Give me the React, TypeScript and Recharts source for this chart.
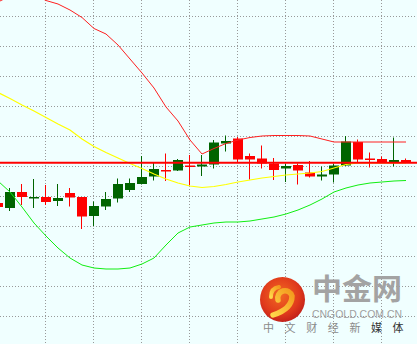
import React from 'react';
import { ComposedChart, Bar, Line, XAxis, YAxis, CartesianGrid, ReferenceLine } from 'recharts';

// ---- data (bar index k, prices in chart units) ----
const barIndex = [-1, 0, 1, 2, 3, 4, 5, 6, 7, 8, 9, 10, 11, 12, 13, 14, 15, 16, 17, 18, 19, 20, 21, 22, 23, 24, 25, 26, 27, 28, 29, 30, 31, 32, 33];
const opens = [141, 136, 152, 146, 147, 143, 151, 147, 128, 137.5, 145.5, 154, 160, 167.5, 174, 173.5, 178.5, 177.5, 179.5, 200.5, 205.5, 188, 185.5, 180.5, 175.5, 179, 171.5, 167.5, 169.5, 178.5, 202, 185.5, 185, 181.5, 184];
const closes = [137, 152, 147, 147, 142, 146, 146.5, 127.5, 138, 145, 160, 161, 167, 175, 173.5, 184, 178, 179.5, 201.5, 203, 184.5, 184.5, 180.5, 174, 178, 173.5, 167.5, 169.5, 178.5, 202.5, 184.5, 185, 181.5, 184, 181.5];
const highs = [144, 156, 160, 165, 159, 160, 156, 147, 142.5, 152, 165.5, 165.5, 188, 181, 190.5, 185, 189, 189, 204, 208.5, 207, 190.5, 198.5, 186, 180.5, 180.5, 183, 177.5, 180.5, 208, 204.5, 191.5, 187.5, 206.5, 185.5];
const lows = [134, 133, 139, 136, 139, 138, 137.5, 115, 118, 134, 141.5, 152, 159.5, 163.5, 163, 173, 158.5, 168, 175.5, 192.5, 182, 164.5, 175.5, 164, 162, 159.5, 166.5, 163.5, 161.5, 178, 181.5, 176.5, 181, 177.5, 181];
const upperBand = [342, 348, 352, 350, 343.5, 340, 334, 326.5, 315.5, 310, 299, 285, 271, 256, 237, 223, 204, 190, 195.5, 200.5, 204, 206.5, 208, 208.5, 208.5, 208.5, 208, 205, 202, 202, 202, 202, 202, 202, 202];
const middleBand = [251.5, 245.5, 239, 233, 226.5, 220, 214, 205, 197.5, 191.5, 186, 180.5, 175.5, 170, 165, 161, 158, 156.5, 157.5, 159.5, 162, 164, 166, 167.5, 169, 170, 171, 172.5, 176, 179.5, 181, 181, 181, 181, 181];
const lowerBand = [163, 152, 137, 121, 108, 96, 86, 79, 76, 75, 75, 76, 80, 86, 99, 111, 117, 119, 121, 122, 122, 123, 125, 127, 130, 134, 139, 145, 152, 156, 159, 161, 162, 163, 163.5];
const levelPrice = 181.2;

// ---- layout / style ----
const W = 417;
const H = 344;
const BAR_STEP = 12;
const FIRST_X = 10;
const X_DOMAIN: [number, number] = [-FIRST_X / BAR_STEP, (W - FIRST_X) / BAR_STEP];
const Y_DOMAIN: [number, number] = [0, H];
const BODY_W = 10;
const UP = '#006400';
const DOWN = '#ff0000';
const gridX = [45.5, 93.5, 141.5, 189.5, 237.5, 285.5, 333.5, 381.5];
const gridY = [16.5, 46.5, 76.5, 106.5, 136.5, 166.5, 196.5, 226.5, 256.5, 286.5, 316.5];

const data = barIndex.map((k, i) => ({
  k,
  o: opens[i],
  c: closes[i],
  h: highs[i],
  l: lows[i],
  range: [lows[i], highs[i]],
  upper: upperBand[i],
  middle: middleBand[i],
  lower: lowerBand[i],
}));

const Candle = (props: any) => {
  const { x, y, width, height, payload } = props;
  if (x == null || y == null || !payload) return null;
  const { o, c, h, l } = payload;
  const cx = x + width / 2;
  const span = h - l;
  const py = (v: number) => (span > 0 ? y + ((h - v) / span) * height : y);
  const up = c >= o;
  const color = up ? UP : DOWN;
  const top = py(Math.max(o, c));
  const bot = py(Math.min(o, c));
  const bodyH = Math.max(bot - top, 1.5);
  return (
    <g>
      <rect x={cx - 1} y={y} width={1} height={Math.max(height, 1)} fill={color} />
      <rect x={cx - BODY_W / 2} y={top} width={BODY_W} height={bodyH} fill={color} />
    </g>
  );
};

const Watermark = () => (
  <svg width={W} height={H} style={{ position: 'absolute', left: 0, top: 0, pointerEvents: 'none' }}>
    <defs>
      <radialGradient id="logoBg" cx="0.45" cy="0.4" r="0.6">
        <stop offset="0%" stopColor="#f26a22" />
        <stop offset="70%" stopColor="#e03a1c" />
        <stop offset="100%" stopColor="#c4221a" />
      </radialGradient>
      <linearGradient id="swirl" x1="0" y1="1" x2="1" y2="0">
        <stop offset="0%" stopColor="#ffd84a" />
        <stop offset="100%" stopColor="#f39a1d" />
      </linearGradient>
    </defs>
    <circle cx={282.5} cy={299.5} r={22.5} fill="url(#logoBg)" />
    <path d="M 278 300 A 7 7 0 1 1 292 296 Q 292 309 273 315" fill="none" stroke="url(#swirl)" strokeWidth={5.5} strokeLinecap="round" />
    <path d="M 271 297 Q 271 288 279 287" fill="none" stroke="url(#swirl)" strokeWidth={4} strokeLinecap="round" />
    <text x={312} y={300} fontFamily="'Noto Sans CJK SC', sans-serif" fontWeight={700} fontSize={29} fill="#a3a3a3" textLength={90} lengthAdjust="spacingAndGlyphs">中金网</text>
    <text x={312} y={317.5} fontFamily="'Liberation Sans', Arial, sans-serif" fontSize={11} fill="#a0a0a0" textLength={90} lengthAdjust="spacingAndGlyphs">CNGOLD.COM.CN</text>
    <text x={263} y={332} fontFamily="'Noto Sans CJK SC', sans-serif" fontSize={11} fill="#8a8a8a" letterSpacing={10.6}>
      中文财经新<tspan fill="#333333">媒体</tspan>
    </text>
  </svg>
);

export default function App() {
  return (
    <div style={{ position: 'absolute', left: 0, top: 0, width: W, height: H, background: '#f0ffff', overflow: 'hidden' }}>
      <ComposedChart width={W} height={H} data={data} margin={{ top: 0, right: 0, bottom: 0, left: 0 }}>
        <CartesianGrid stroke="#999999" strokeDasharray="1 2" verticalPoints={gridX} horizontalPoints={gridY} />
        <XAxis type="number" dataKey="k" domain={X_DOMAIN} allowDataOverflow hide />
        <YAxis type="number" domain={Y_DOMAIN} allowDataOverflow hide />
        <Line type="linear" dataKey="upper" stroke="#ff2020" strokeWidth={1} dot={false} activeDot={false} isAnimationActive={false} />
        <Line type="linear" dataKey="middle" stroke="#ffff00" strokeWidth={1.2} dot={false} activeDot={false} isAnimationActive={false} />
        <Line type="linear" dataKey="lower" stroke="#11ee11" strokeWidth={1} dot={false} activeDot={false} isAnimationActive={false} />
        <Bar dataKey="range" barSize={BODY_W} shape={<Candle />} isAnimationActive={false} />
        <ReferenceLine y={levelPrice} stroke="#ff0000" strokeWidth={2} />
      </ComposedChart>
      <Watermark />
    </div>
  );
}
